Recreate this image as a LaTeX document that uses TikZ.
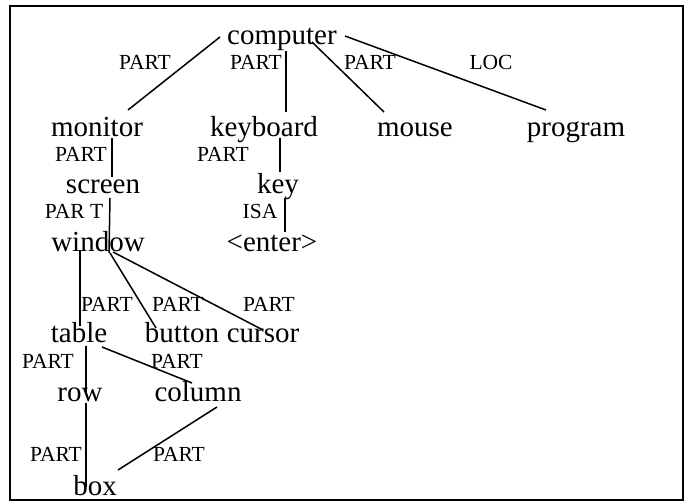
\documentclass[tikz,border=0pt]{standalone}
\usepackage{fontspec}
\setmainfont{Liberation Serif}
\begin{document}
\begin{tikzpicture}[x=1pt,y=-1pt,
  concept/.style={anchor=base,inner sep=0pt,font=\fontsize{29}{31}\selectfont},
  rel/.style={anchor=base,inner sep=0pt,font=\fontsize{21.5}{23}\selectfont},
  link/.style={line width=1.5pt,black},
  frame/.style={line width=1.8pt,black}]
\useasboundingbox (0,0) rectangle (691,502);
\draw[frame] (10,6) rectangle (683,500);
% concepts
\node[concept] (computer) at (282,45) {computer};
\node[concept] (monitor) at (97,137) {monitor};
\node[concept] (keyboard) at (264,137) {keyboard};
\node[concept] (mouse) at (415,137) {mouse};
\node[concept] (program) at (576,137) {program};
\node[concept] (screen) at (103,194) {screen};
\node[concept] (key) at (278,194) {key};
\node[concept] (window) at (98,252) {window};
\node[concept] (enter) at (272,252) {<enter>};
\node[concept] (table) at (79,343) {table};
\node[concept] (button) at (182,343) {button};
\node[concept] (cursor) at (263,343) {cursor};
\node[concept] (row) at (80,402) {row};
\node[concept] (column) at (198,402) {column};
\node[concept] (box) at (95,495) {box};
% relation labels
\node[rel] (l1) at (145,70) {PART};
\node[rel] (l2) at (256,70) {PART};
\node[rel] (l3) at (370,70) {PART};
\node[rel] (l4) at (491,70) {LOC};
\node[rel] (l5) at (81,162) {PART};
\node[rel] (l6) at (223,162) {PART};
\node[rel] (l7) at (74,219) {PAR T};
\node[rel] (l8) at (260,219) {ISA};
\node[rel] (l9) at (107,312) {PART};
\node[rel] (l10) at (178,312) {PART};
\node[rel] (l11) at (269,312) {PART};
\node[rel] (l12) at (48,369) {PART};
\node[rel] (l13) at (177,369) {PART};
\node[rel] (l14) at (56,462) {PART};
\node[rel] (l15) at (179,462) {PART};
% links
\draw[link] ([shift={(-62,-8)}]computer.base) -- ([shift={(31,-27)}]monitor.base);
\draw[link] ([shift={(4,6)}]computer.base) -- ([shift={(22,-25)}]keyboard.base);
\draw[link] ([shift={(30,-3)}]computer.base) -- ([shift={(-31,-25)}]mouse.base);
\draw[link] ([shift={(63,-9)}]computer.base) -- ([shift={(-30,-27)}]program.base);
\draw[link] ([shift={(15,1)}]monitor.base) -- ([shift={(9,-17)}]screen.base);
\draw[link] ([shift={(16,1)}]keyboard.base) -- ([shift={(2,-22)}]key.base);
\draw[link] ([shift={(7,4)}]screen.base) -- ([shift={(11,1)}]window.base);
\draw[link] ([shift={(7,4)}]key.base) -- ([shift={(13,-20)}]enter.base);
\draw[link] ([shift={(-18,-2)}]window.base) -- ([shift={(1,-17)}]table.base);
\draw[link] ([shift={(12,1)}]window.base) -- ([shift={(-26,-15)}]button.base);
\draw[link] ([shift={(15,0)}]window.base) -- ([shift={(0,-13)}]cursor.base);
\draw[link] ([shift={(7,3)}]table.base) -- ([shift={(6,-10)}]row.base);
\draw[link] ([shift={(23,4)}]table.base) -- ([shift={(-6,-19)}]column.base);
\draw[link] ([shift={(6,1)}]row.base) -- ([shift={(-9,-8)}]box.base);
\draw[link] ([shift={(19,5)}]column.base) -- ([shift={(23,-25)}]box.base);
\end{tikzpicture}
\end{document}
